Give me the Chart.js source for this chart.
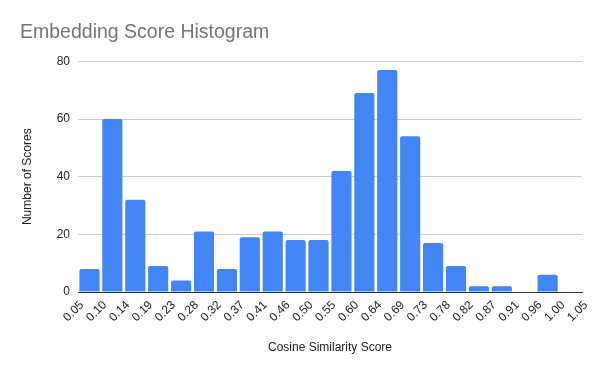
<!DOCTYPE html>
<html>
<head>
<meta charset="utf-8">
<script src="https://cdn.jsdelivr.net/npm/chart.js@4"></script>
<style>
  html, body { margin: 0; padding: 0; background: #fff; }
  #wrap { width: 600px; height: 371px; }
</style>
</head>
<body>
<div id="wrap"><canvas id="chart" width="600" height="371"></canvas></div>
<script>
// bin edges shown as tick labels
const binEdges = ['0.05', '0.10', '0.14', '0.19', '0.23', '0.28', '0.32', '0.37', '0.41', '0.46', '0.50',
  '0.55', '0.60', '0.64', '0.69', '0.73', '0.78', '0.82', '0.87', '0.91', '0.96', '1.00', '1.05'];
// counts per bin (between consecutive edges)
const counts = [8, 60, 32, 9, 4, 21, 8, 19, 21, 18, 18, 42, 69, 77, 54, 17, 9, 2, 2, 0, 6, 0];
const yTicks = [0, 20, 40, 60, 80];

const points = counts.map((c, i) => ({ x: i + 0.5, y: c }));
const font = 'Arial, "Liberation Sans", sans-serif';

new Chart(document.getElementById('chart').getContext('2d'), {
  type: 'bar',
  data: {
    datasets: [{
      label: 'Number of Scores',
      data: points,
      backgroundColor: '#4285F4',
      borderRadius: 2,
      borderSkipped: 'bottom',
      barPercentage: 0.88,
      categoryPercentage: 1.0
    }]
  },
  options: {
    responsive: false,
    animation: false,
    layout: { padding: { left: 20, right: 18, top: 0, bottom: 0 } },
    plugins: {
      legend: { display: false },
      tooltip: { enabled: false },
      title: {
        display: true,
        text: 'Embedding Score Histogram',
        align: 'start',
        color: '#757575',
        font: { family: font, size: 19.5, weight: 'normal' },
        padding: { top: 21, bottom: 17 }
      }
    },
    scales: {
      x: {
        type: 'linear',
        min: 0,
        max: binEdges.length - 1,
        offset: false,
        afterBuildTicks: (scale) => { scale.ticks = binEdges.map((_, i) => ({ value: i })); },
        ticks: {
          autoSkip: false,
          maxRotation: 45,
          minRotation: 45,
          padding: 6,
          labelOffset: 4,
          color: '#222',
          font: { family: font, size: 12 },
          callback: (v) => binEdges[v]
        },
        grid: { display: false, drawTicks: false },
        border: { display: true, color: '#333', width: 1 },
        title: {
          display: true,
          text: 'Cosine Similarity Score',
          color: '#222',
          font: { family: font, size: 12 },
          padding: { top: 0, bottom: 16 }
        },
        afterFit: (scale) => { scale.height = 79; }
      },
      y: {
        min: 0,
        max: 80,
        afterBuildTicks: (scale) => { scale.ticks = yTicks.map(v => ({ value: v })); },
        ticks: {
          padding: 8,
          color: '#222',
          font: { family: font, size: 12 }
        },
        grid: { color: '#cccccc', drawTicks: false },
        border: { display: false },
        title: {
          display: true,
          text: 'Number of Scores',
          color: '#222',
          font: { family: font, size: 12 },
          padding: 0
        },
        afterFit: (scale) => { scale.width = 58; }
      }
    }
  }
});
</script>
</body>
</html>
